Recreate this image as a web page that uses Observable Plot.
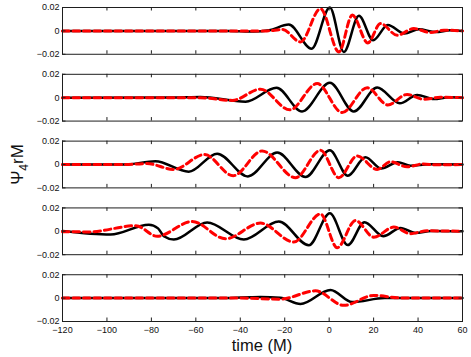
<!DOCTYPE html>
<html><head><meta charset="utf-8">
<script src="https://cdn.jsdelivr.net/npm/d3@7"></script>
<script src="https://cdn.jsdelivr.net/npm/@observablehq/plot@0.6"></script>
<style>
body{margin:0;background:#fff}
#chart{position:relative;width:471px;height:357px}
</style>
</head><body><div id="chart"></div>
<script>
// ---- data (time in M, value of Psi4 rM) ----
const xTicks = [-120, -100, -80, -60, -40, -20, 0, 20, 40, 60];
const yTicks = [-0.02, 0, 0.02];
const yTickLabels = ["\u22120.02", "0", "0.02"];
const panels = [1, 2, 3, 4, 5];

const panel1Black = [[-120,0],[-45,0],[-34,-0.0006],[-27,0.0005],[-18.2,0.0054],[-7.9,-0.0152],[0.3,0.020],[6.6,-0.018],[13.4,0.013],[19.8,-0.008],[26.4,0.005],[33.9,-0.0023],[40.4,0.0014],[47.9,-0.001],[54.6,0.0005],[60,0]];
const panel1Red   = [[-120,0],[-28,0],[-21,0.0012],[-12.9,-0.0095],[-3.9,0.019],[4.4,-0.018],[10.4,0.0135],[17.4,-0.0103],[23.1,0.0063],[30.6,-0.0037],[38.1,0.002],[45.6,-0.0014],[51.6,0.0006],[60,0]];

const panel2Black = [[-120,0],[-70,0.0001],[-58,0.0006],[-37.6,-0.0034],[-23.7,0.0085],[-12.2,-0.0118],[0.3,0.0127],[11.1,-0.0118],[21.6,0.0087],[31.8,-0.0048],[39.6,0.0023],[47.1,-0.0011],[54,0.0003],[60,0]];
const panel2Red   = [[-120,0],[-58,0],[-43.6,-0.0023],[-30.9,0.0073],[-17.7,-0.0104],[-5.4,0.0121],[5.85,-0.0127],[17.1,0.0085],[26.4,-0.0062],[35.1,0.0028],[42.6,-0.0014],[50,0.0004],[60,0]];

const panel3Black = [[-120,0],[-92,0],[-78.2,0.0028],[-63.2,-0.0062],[-50.4,0.0093],[-36.6,-0.0102],[-23.4,0.0102],[-10.65,-0.0107],[0.3,0.0121],[8.4,-0.0096],[16.35,0.0062],[23.4,-0.0034],[30.9,0.002],[36.6,-0.001],[45,0.0002],[60,0]];
const panel3Red   = [[-120,0],[-92,0],[-82,0.0008],[-69.9,-0.0042],[-56.1,0.0085],[-43.2,-0.0096],[-30.15,0.0116],[-15.15,-0.0113],[-3.9,0.0121],[4.35,-0.0113],[12.6,0.0073],[21.6,-0.0042],[27.6,0.0023],[35.1,-0.002],[42,0.0004],[48,-0.0003],[60,0]];

const panel4Black = [[-120,0.0002],[-98.4,-0.0028],[-81.15,0.0056],[-77,0.0025],[-74.4,-0.0042],[-69.9,-0.007],[-54.9,0.0076],[-38.4,-0.007],[-22.65,0.0084],[-9.15,-0.012],[0.3,0.0154],[8.4,-0.0118],[15.9,0.0078],[24.3,-0.0042],[32.1,0.0028],[38.85,-0.0014],[46,0.0003],[60,0]];
const panel4Red   = [[-120,-0.0003],[-108,-0.0005],[-87,0.0048],[-77.4,-0.0042],[-61.65,0.0084],[-46.65,-0.0064],[-30.9,0.007],[-15.9,-0.0092],[-3.9,0.0148],[3.6,-0.014],[11.85,0.0092],[20.1,-0.005],[29.1,0.0036],[36.6,-0.002],[44,0.0004],[60,0]];

const panel5Black = [[-120,0],[-48,0],[-30.9,0.001],[-22,0.0003],[-12.9,-0.005],[0.6,0.007],[10.35,-0.0034],[25,0],[60,0]];
const panel5Red   = [[-120,0],[-40,0],[-22,-0.0009],[-6.15,0.0062],[6.6,-0.0062],[20.1,0.0023],[32,0.0002],[60,0]];

const blackSeries = [panel1Black, panel2Black, panel3Black, panel4Black, panel5Black];
const redSeries   = [panel1Red, panel2Red, panel3Red, panel4Red, panel5Red];

const toRows = (list) => list.flatMap((arr, i) => arr.map(([t, v]) => ({panel: panels[i], t, v})));
const blackRows = toRows(blackSeries);
const redRows = toRows(redSeries);

// ---- layout ----
const W = 471, H = 357, ML = 62, MR = 9, MT = 7, MB = 36;
const fyPad = 0.3;
const bandH = ((H - MT - MB) / (panels.length - fyPad)) * (1 - fyPad);
const plotW = W - ML - MR;
const tick = 3.5;
const frameColor = "#1e1e1e";

const chart = Plot.plot({
  width: W, height: H,
  marginLeft: ML, marginRight: MR, marginTop: MT, marginBottom: MB,
  style: {fontFamily: "'Liberation Sans', Arial, sans-serif", fontSize: "9px", background: "white", color: "#111"},
  x: {domain: [-120, 60]},
  y: {domain: [-0.02, 0.02]},
  fy: {domain: panels, paddingInner: fyPad, paddingOuter: 0, axis: null, round: false},
  marks: [
    Plot.line(blackRows, {x: "t", y: "v", fy: "panel", stroke: "black", strokeWidth: 2.5, curve: "monotone-x"}),
    Plot.line(redRows, {x: "t", y: "v", fy: "panel", stroke: "#ff0000", strokeWidth: 3, strokeDasharray: "6.5,4", curve: "monotone-x"}),
    Plot.frame({stroke: frameColor, strokeWidth: 1}),
    Plot.tickX(xTicks, {x: d => d, insetBottom: bandH - tick, stroke: frameColor}),
    Plot.tickX(xTicks, {x: d => d, insetTop: bandH - tick, stroke: frameColor}),
    Plot.tickY(yTicks, {y: d => d, insetRight: plotW - tick, stroke: frameColor}),
    Plot.tickY(yTicks, {y: d => d, insetLeft: plotW - tick, stroke: frameColor}),
    Plot.axisX({ticks: xTicks, tickSize: 0, tickPadding: 5, label: null}),
    Plot.axisY({ticks: yTicks, tickSize: 0, tickPadding: 3, label: null,
      tickFormat: d => yTickLabels[yTicks.indexOf(d)]})
  ]
});

const svg = d3.select(chart);
svg.append("text")
  .attr("x", ML + plotW / 2).attr("y", 351)
  .attr("text-anchor", "middle")
  .attr("font-size", 16.5)
  .attr("fill", "#111")
  .text("time (M)");

const yl = svg.append("text")
  .attr("transform", "translate(22.5,164.5) rotate(-90)")
  .attr("text-anchor", "middle")
  .attr("font-size", 17)
  .attr("fill", "#111");
yl.append("tspan").text("Ψ");
yl.append("tspan").attr("dy", 5).attr("font-size", 12).text("4");
yl.append("tspan").attr("dy", -5).text("rM");

document.getElementById("chart").appendChild(chart);
</script>
</body></html>
